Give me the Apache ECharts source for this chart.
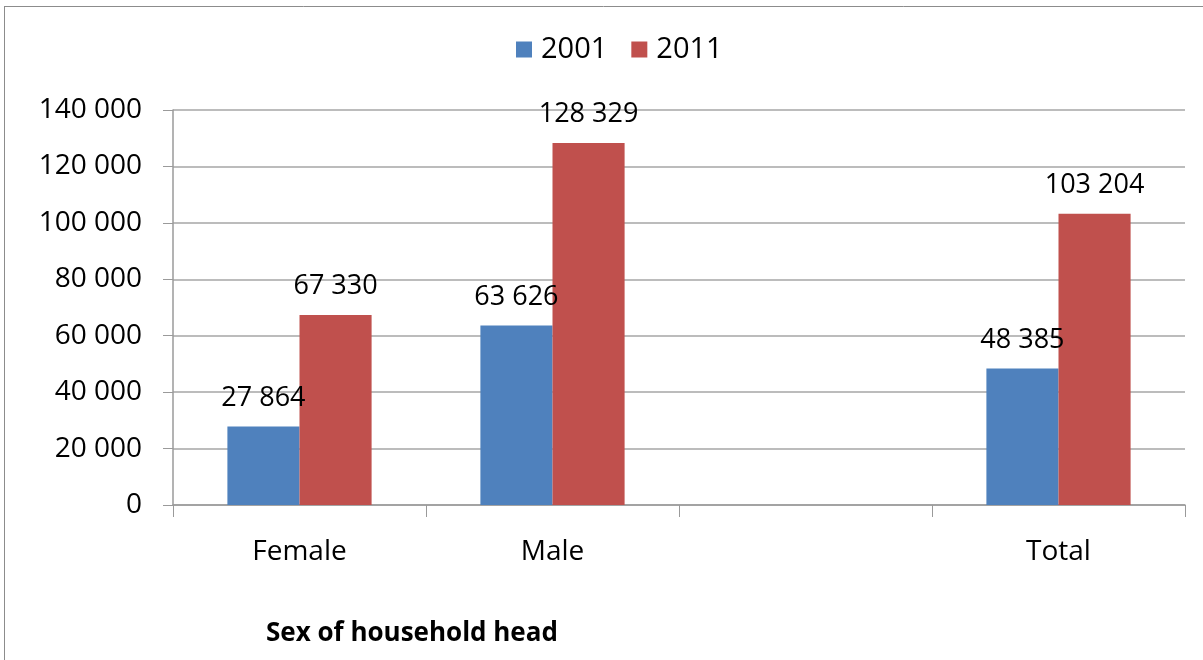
<!DOCTYPE html>
<html>
<head>
<meta charset="utf-8">
<script src="https://cdn.jsdelivr.net/npm/echarts@6/dist/echarts.min.js"></script>
<style>
html,body{margin:0;padding:0;background:#fff;}
#chart{width:1203px;height:660px;}
</style>
</head>
<body>
<div id="chart"></div>
<script>
const categories = ['Female', 'Male', '', 'Total'];
const seriesNames = ['2001', '2011'];
const values2001 = [27864, 63626, null, 48385];
const values2011 = [67330, 128329, null, 103204];
const yTicks = [0, 20000, 40000, 60000, 80000, 100000, 120000, 140000];
const xAxisTitle = 'Sex of household head';

const FONT = 'Open Sans';
const fmt = v => String(v).replace(/\B(?=(\d{3})+(?!\d))/g, ' ');

const chart = echarts.init(document.getElementById('chart'));
const labelCfg = {
  show: true, position: 'top', distance: 15, color: '#000',
  fontFamily: FONT, fontSize: 27,
  formatter: p => fmt(p.value)
};
chart.setOption({
  animation: false,
  color: ['#4f81bd', '#c0504d'],
  graphic: [
    { type: 'line', shape: { x1: 4.5, y1: 6, x2: 4.5, y2: 660 }, style: { stroke: '#8c8c8c', lineWidth: 1 } },
    { type: 'line', shape: { x1: 4, y1: 6.5, x2: 1203, y2: 6.5 }, style: { stroke: '#8c8c8c', lineWidth: 1 } }
  ],
  title: {
    text: xAxisTitle, left: 261, top: 616,
    textStyle: { fontFamily: FONT, fontSize: 26, fontWeight: 'bold', color: '#000' }
  },
  legend: {
    data: seriesNames, top: 30, left: 511, padding: 5,
    itemWidth: 16, itemHeight: 16, itemGap: 24,
    icon: 'rect',
    textStyle: { fontFamily: FONT, fontSize: 29, color: '#000', padding: [0,0,0,4] }
  },
  grid: { left: 173, right: 18, top: 110, bottom: 155, containLabel: false },
  xAxis: {
    type: 'category', data: categories,
    axisLine: { lineStyle: { color: '#9a9a9a', width: 1.5 } },
    axisTick: { show: true, length: 12, lineStyle: { color: '#9a9a9a' } },
    axisLabel: { color: '#000', fontFamily: FONT, fontSize: 28, margin: 33 }
  },
  yAxis: {
    type: 'value', min: 0, max: yTicks[yTicks.length - 1], interval: yTicks[1] - yTicks[0],
    axisLine: { show: true, lineStyle: { color: '#9a9a9a', width: 1.5 } },
    axisTick: { show: true, length: 10, lineStyle: { color: '#9a9a9a' } },
    splitLine: { lineStyle: { color: '#a6a6a6', width: 1.5 } },
    axisLabel: { color: '#000', fontFamily: FONT, fontSize: 28, margin: 31, formatter: v => fmt(v) }
  },
  series: [
    { name: seriesNames[0], type: 'bar', data: values2001, barGap: '0%', barCategoryGap: '43%', label: labelCfg },
    { name: seriesNames[1], type: 'bar', data: values2011, barGap: '0%', barCategoryGap: '43%', label: labelCfg }
  ]
});
</script>
</body>
</html>
